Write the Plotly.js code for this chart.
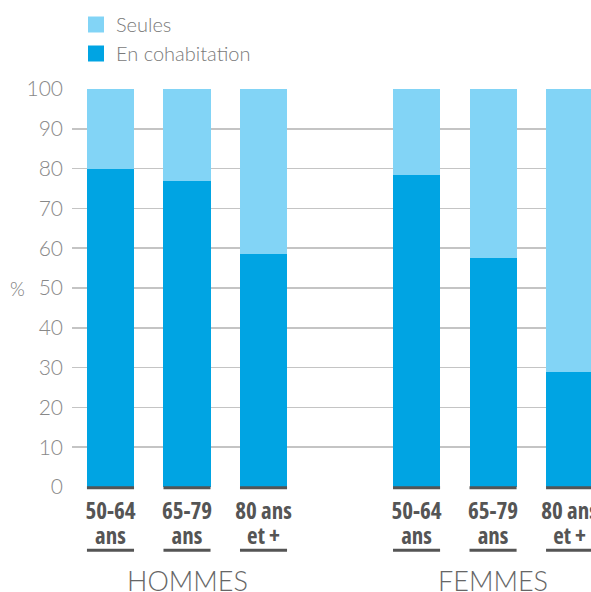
<!DOCTYPE html>
<html><head><meta charset="utf-8">
<script src="https://cdn.plot.ly/plotly-3.0.1.min.js"></script>
<style>html,body{margin:0;padding:0;background:#fff}#c{width:591px;height:592px}
.xtick text{font-stretch:75% !important;}
</style>
</head><body><div id="c"></div>
<script>
const positions = [0, 1, 2, 4, 5, 6];
const tickLabels = ["50-64<br>ans", "65-79<br>ans", "80 ans<br>et +", "50-64<br>ans", "65-79<br>ans", "80 ans<br>et +"];
const cohabitation = [80, 77, 58.5, 78.4, 57.5, 28.9];
const seules = cohabitation.map(v => 100 - v);
const groups = ["HOMMES", "FEMMES"];
const groupCenters = [1, 5];
const barWidth = 0.615;

const thin = {family: "Lato, 'Open Sans', sans-serif", weight: 300, color: "#7a7a7a"};
const cond = "'Open Sans', 'DejaVu Sans Condensed', sans-serif";

const traces = [
  {type: "bar", name: "En cohabitation", x: positions, y: cohabitation, width: barWidth,
   marker: {color: "#00a4e3"}, hoverinfo: "skip"},
  {type: "bar", name: "Seules", x: positions, y: seules, width: barWidth,
   marker: {color: "#82d4f6"}, hoverinfo: "skip"}
];

const shapes = [];
positions.forEach(p => {
  shapes.push({type: "line", xref: "x", yref: "paper", x0: p - barWidth/2, x1: p + barWidth/2,
    y0: -0.002, y1: -0.002, line: {color: "#555", width: 3}});
  shapes.push({type: "line", xref: "x", yref: "paper", x0: p - barWidth/2, x1: p + barWidth/2,
    y0: -0.159, y1: -0.159, line: {color: "#555", width: 3}});
});

const annotations = groups.map((g, i) => ({
  text: g, x: groupCenters[i], xref: "x", y: -0.234, yref: "paper",
  showarrow: false, xanchor: "center", yanchor: "middle",
  font: {family: thin.family, weight: 300, size: 27, color: "#666"}
}));
annotations.push({text: "%", xref: "paper", x: (17 - 72) / 519, yref: "paper", y: 0.5,
  showarrow: false, xanchor: "center", yanchor: "middle",
  font: {family: thin.family, weight: 300, size: 19, color: "#7a7a7a"}});

const layout = {
  width: 591, height: 592,
  margin: {l: 72, r: 0, t: 89, b: 105, autoexpand: false},
  paper_bgcolor: "#fff", plot_bgcolor: "#fff",
  barmode: "stack",
  showlegend: true,
  legend: {orientation: "v", traceorder: "reversed", xref: "container", yref: "container",
    x: 76/591, xanchor: "left", y: 1 - 5/592, yanchor: "top",
    font: {family: thin.family, weight: 300, size: 20, color: "#7a7a7a"},
    bgcolor: "rgba(0,0,0,0)", itemclick: false},
  xaxis: {range: [-0.503, 6.28], tickvals: positions, ticktext: tickLabels, tickangle: 0,
    showgrid: false, zeroline: false, showline: false, ticks: "", automargin: false,
    ticklabeloverflow: "allow", ticklabelstandoff: 8,
    tickfont: {family: cond, weight: 700, size: 23, color: "#555"}, fixedrange: true},
  yaxis: {range: [0, 100], tickvals: [0,10,20,30,40,50,60,70,80,90,100], automargin: false,
    showgrid: true, gridcolor: "#c4c4c4", gridwidth: 1.5, zeroline: false, showline: false,
    ticks: "", ticklabelstandoff: 8,
    tickfont: {family: thin.family, weight: 300, size: 21, color: "#888"}, fixedrange: true},
  shapes: shapes,
  annotations: annotations
};

Plotly.newPlot("c", traces, layout, {displayModeBar: false, staticPlot: true}).then(gd => {
  gd.querySelectorAll(".xtick text tspan.line").forEach(t => {
    const dy = t.getAttribute("dy");
    if (dy && parseFloat(dy) > 0) t.setAttribute("dy", "1.08em");
  });
  gd.querySelectorAll(".legendpoints path").forEach(p => {
    p.setAttribute("d", "M8,8H-8V-8H8Z");
  });
});
</script>
</body></html>
